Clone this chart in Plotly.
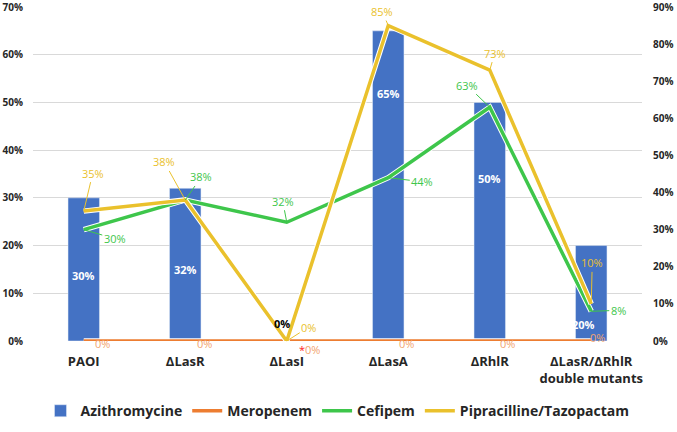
import plotly.graph_objects as go

categories = ["PAOI", "ΔLasR", "ΔLasI", "ΔLasA", "ΔRhlR", "ΔLasR/ΔRhlR<br>double mutants"]
azithromycine = [30, 32, 0, 65, 50, 20]
meropenem = [0, 0, 0, 0, 0, 0]
cefipem = [30, 38, 32, 44, 63, 8]
pipracilline = [35, 38, 0, 85, 73, 10]

left_ticks = list(range(0, 71, 10))
right_ticks = list(range(0, 91, 10))

BLUE = "#4472C4"
ORANGE = "#ED7D31"
GREEN = "#3EC64B"
YELLOW = "#EAC12C"
FONT = "Open Sans"

# label offsets in screen pixels (x right, y down) -- styling only
bar_label_shift = [(0, 78), (0, 81), (-5, -18), (0, 63), (0, 76), (-8, 79)]
yellow_off = [(9, -38), (-21, -38), (22, -14), (-6, -14), (5, -17), (1, -41)]
green_off = [(31, 9), (16, -23), (-4, -21), (34, 4), (-23, -22), (27, -1)]
orange_off = [(19, 2), (19, 2), (23, 8), (18, 2), (18, 2), (6, -4)]

fig = go.Figure()
fig.add_trace(go.Bar(x=categories, y=azithromycine, name="Azithromycine",
                     marker_color=BLUE, width=0.31, yaxis="y"))

for name, vals, col in [("Meropenem", meropenem, ORANGE),
                        ("Cefipem", cefipem, GREEN),
                        ("Pipracilline/Tazopactam", pipracilline, YELLOW)]:
    fig.add_trace(go.Scatter(x=categories, y=vals, mode="lines", showlegend=False,
                             line=dict(color="white", width=5.5), yaxis="y2",
                             hoverinfo="skip"))
    fig.add_trace(go.Scatter(x=categories, y=vals, mode="lines", name=name,
                             line=dict(color=col, width=3.5), yaxis="y2"))

ann = []
for i, c in enumerate(categories):
    v = azithromycine[i]
    dx, dy = bar_label_shift[i]
    ann.append(dict(x=c, y=v, yref="y", text=f"{v}%", showarrow=False,
                    xshift=dx, yshift=-dy,
                    font=dict(family=FONT, size=11, weight="bold",
                              color="black" if v == 0 else "white")))
    v = pipracilline[i]
    dx, dy = yellow_off[i]
    ann.append(dict(x=c, y=v, yref="y2", text=f"{v}%", showarrow=True,
                    arrowhead=0, arrowwidth=1, arrowcolor=YELLOW, ax=dx, ay=dy,
                    standoff=0, font=dict(family=FONT, size=11, color=YELLOW)))
    v = cefipem[i]
    dx, dy = green_off[i]
    ann.append(dict(x=c, y=v, yref="y2", text=f"{v}%", showarrow=True,
                    arrowhead=0, arrowwidth=1, arrowcolor=GREEN, ax=dx, ay=dy,
                    standoff=0, font=dict(family=FONT, size=11, color=GREEN)))
    v = meropenem[i]
    dx, dy = orange_off[i]
    txt = f"{v}%" if i != 2 else f"<span style='color:#FF2020'>*</span>{v}%"
    ann.append(dict(x=c, y=v, yref="y2", text=txt, showarrow=False,
                    xshift=dx, yshift=-dy,
                    font=dict(family=FONT, size=11, color="#F2A46E")))

tickfont = dict(family=FONT, size=10, weight="bold", color="#262626")
fig.update_layout(
    width=677, height=432,
    margin=dict(l=33, r=35, t=7, b=91, autoexpand=False),
    paper_bgcolor="white", plot_bgcolor="white",
    font=dict(family=FONT, color="#262626"),
    xaxis=dict(type="category", showgrid=False, showline=False, ticks="",
               tickfont=dict(family=FONT, size=13, weight="bold", color="#262626"),
               ticklabelstandoff=11, range=[-0.5, 5.5], automargin=False),
    yaxis=dict(range=[0, 70], tickvals=left_ticks,
               ticktext=[f"{t}%" for t in left_ticks],
               showgrid=True, gridcolor="#D9D9D9", gridwidth=1,
               zeroline=False, showline=False, tickfont=tickfont,
               ticklabelstandoff=9, automargin=False, ticklabeloverflow="allow"),
    yaxis2=dict(range=[0, 90], tickvals=right_ticks,
                ticktext=[f"{t}%" for t in right_ticks],
                overlaying="y", side="right", showgrid=False, zeroline=False,
                showline=False, tickfont=tickfont,
                ticklabelstandoff=10, automargin=False, ticklabeloverflow="allow"),
    legend=dict(orientation="h", x=0.5, xanchor="center", y=-0.21, yanchor="middle",
                font=dict(family=FONT, size=14, weight="bold", color="#262626"),
                itemwidth=30, traceorder="normal"),
    annotations=ann,
)

fig.write_html("out.html", config={"displayModeBar": False},
               post_script="document.body.style.margin='0';document.body.style.overflow='hidden';")
